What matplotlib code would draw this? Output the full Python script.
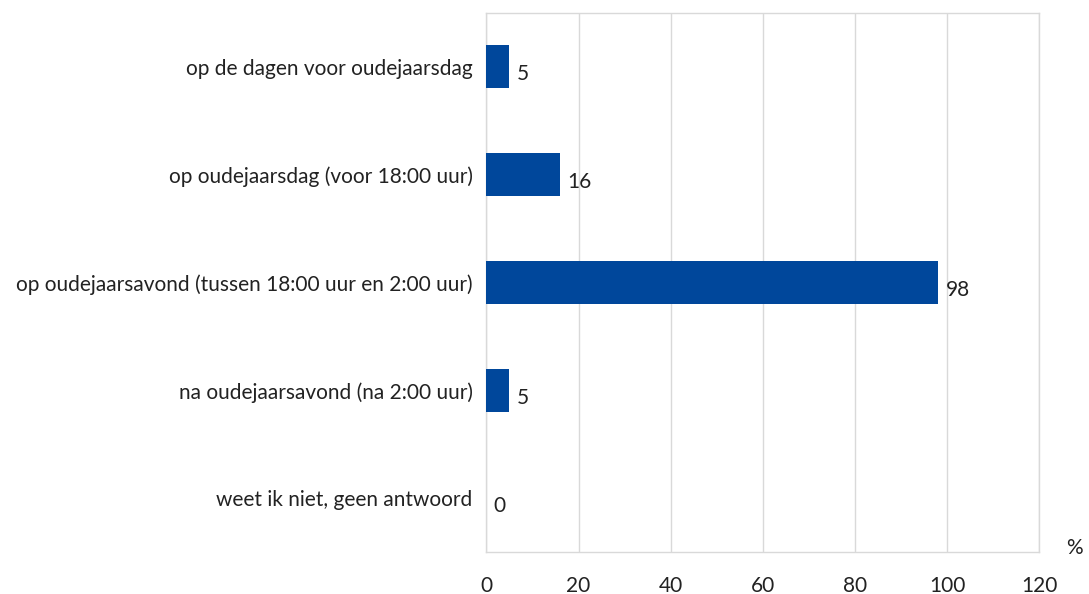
import matplotlib.pyplot as plt
import numpy as np

# categories top to bottom
categories = [
    "op de dagen voor oudejaarsdag",
    "op oudejaarsdag (voor 18:00 uur)",
    "op oudejaarsavond (tussen 18:00 uur en 2:00 uur)",
    "na oudejaarsavond (na 2:00 uur)",
    "weet ik niet, geen antwoord",
]
values = [5, 16, 98, 5, 0]
xticks = [0, 20, 40, 60, 80, 100, 120]

bar_color = "#00479B"
grid_color = "#D9D9D9"
text_color = "#222222"

plt.rcParams['font.family'] = ['Lato', 'DejaVu Sans']

fig = plt.figure(figsize=(10.89, 5.94), dpi=100)
ax = fig.add_axes([0.4467, 0.0707, 0.5078, 0.9074])

y = np.arange(len(categories))
ax.barh(y, values, height=0.4, color=bar_color, zorder=3)

for yi, v in zip(y, values):
    ax.text(v + 1.6, yi + 0.07, str(v), va="center", ha="left",
            fontsize=15, color=text_color)

ax.set_yticks(y)
ax.set_yticklabels(categories, fontsize=15, color=text_color)
ax.set_ylim(len(categories) - 0.5, -0.5)
ax.set_xlim(0, 120)
ax.set_xticks(xticks)
ax.set_xticklabels([str(t) for t in xticks], fontsize=15, color=text_color)
ax.tick_params(axis="both", length=0)
ax.tick_params(axis="x", pad=17)
ax.tick_params(axis="y", pad=10)

ax.grid(axis="x", color=grid_color, linewidth=1, zorder=0)
for s in ax.spines.values():
    s.set_color(grid_color)
    s.set_linewidth(1)

fig.text(0.994, 0.077, "%", fontsize=15, color=text_color, ha="right", va="center")

fig.savefig("out.png", dpi=100)
